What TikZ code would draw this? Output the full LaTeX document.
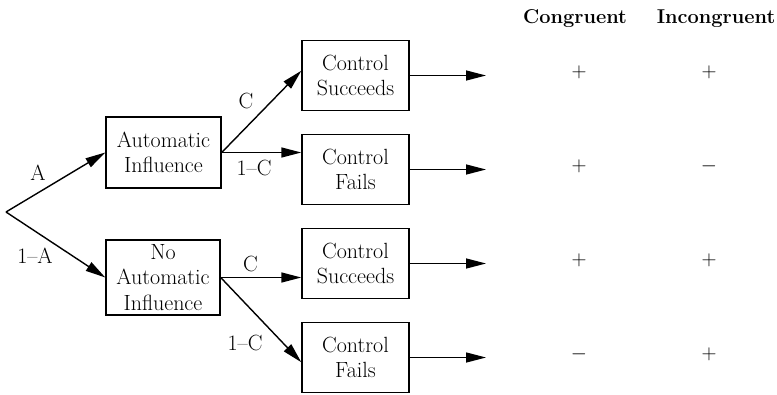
\documentclass[tikz,border=0pt]{standalone}
\usetikzlibrary{arrows.meta,calc}
\begin{document}
\begin{tikzpicture}[x=1pt,y=-1pt,
  box/.style={draw,line width=1.4pt,rectangle,inner sep=0pt,align=center,
    font=\fontsize{22}{25.5}\selectfont},
  conn/.style={line width=1.4pt,-{Triangle[length=20pt,width=10pt]}},
  lab/.style={inner sep=0pt,anchor=base,font=\fontsize{22}{24}\selectfont},
  head/.style={inner sep=0pt,anchor=base,font=\fontsize{20}{22}\selectfont\bfseries},
  sign/.style={inner sep=0pt,font=\fontsize{20}{22}\selectfont}]
\useasboundingbox (0,0) rectangle (777,394);
% tree nodes
\coordinate (o) at (6,212);
\node[box,minimum width=115pt,minimum height=71pt] (auto) at (163.5,152.5) {Automatic\\Influence};
\node[box,minimum width=114pt,minimum height=75pt] (noauto) at (163,277.5) {No\\Automatic\\Influence};
\node[box,minimum width=107pt,minimum height=70pt] (cs1) at (355.5,75.5) {Control\\Succeeds};
\node[box,minimum width=107pt,minimum height=70pt] (cf1) at (355.5,169.5) {Control\\Fails};
\node[box,minimum width=107pt,minimum height=70pt] (cs2) at (355.5,263.5) {Control\\Succeeds};
\node[box,minimum width=107pt,minimum height=70pt] (cf2) at (355.5,357.5) {Control\\Fails};
% output ends
\coordinate (e1) at (486,75.5);
\coordinate (e2) at (486,169.5);
\coordinate (e3) at (486,263.5);
\coordinate (e4) at (486,357.5);
% connectors
\draw[conn] (o) -- (auto.west);
\draw[conn] (o) -- (noauto.west);
\draw[conn] (auto.east) -- (cs1.175);
\draw[conn] (auto.east) -- (auto.east -| cf1.west);
\draw[conn] (noauto.east) -- (noauto.east -| cs2.west);
\draw[conn] (noauto.east) -- (cf2.185);
\draw[conn] (cs1.east) -- (e1);
\draw[conn] (cf1.east) -- (e2);
\draw[conn] (cs2.east) -- (e3);
\draw[conn] (cf2.east) -- (e4);
% labels
\node[lab] (la) at (38,180) {A};
\node[lab] (l1a) at (35,263) {1--A};
\node[lab] (lc1) at (246,108) {C};
\node[lab] (l1c1) at (254,175) {1--C};
\node[lab] (lc2) at (250.5,271.5) {C};
\node[lab] (l1c2) at (245,350) {1--C};
% table
\node[head] (hc) at (575,23) {Congruent};
\node[head] (hi) at (716,23) {Incongruent};
\node[sign] (s11) at (579,72) {$+$};
\node[sign] (s12) at (709,72) {$+$};
\node[sign] (s21) at (579,166) {$+$};
\node[sign] (s22) at (709,166) {$-$};
\node[sign] (s31) at (579,260) {$+$};
\node[sign] (s32) at (709,260) {$+$};
\node[sign] (s41) at (579,354) {$-$};
\node[sign] (s42) at (709,354) {$+$};
\end{tikzpicture}
\end{document}
